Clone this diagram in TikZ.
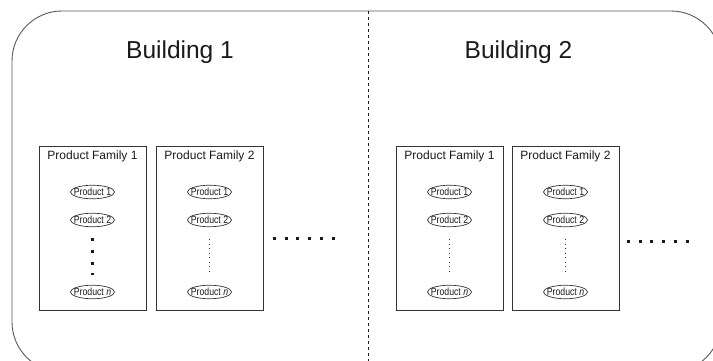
\documentclass[tikz,border=0pt]{standalone}
\usepackage{graphicx}
\usepackage{fontspec}
\setmainfont{Liberation Sans}
\usetikzlibrary{shapes.geometric}
\definecolor{edge}{HTML}{333333}
\definecolor{outline}{HTML}{5A5A5A}
\definecolor{ink}{HTML}{1A1A1A}
% product names are set narrow and may fill the whole ellipse
\newcommand{\prodname}[1]{\makebox[0pt]{\scalebox{0.84}[1]{#1}}}
\begin{document}
\begin{tikzpicture}[x=1pt,y=-1pt,
  familybox/.style={draw=edge, line width=0.9pt, minimum width=107pt, minimum height=164pt, inner sep=0pt},
  familylabel/.style={text=ink, font=\fontsize{12}{14}\selectfont, inner sep=0pt},
  product/.style={ellipse, draw=edge, line width=0.7pt, minimum width=44pt, minimum height=13.5pt, inner sep=0pt, text=ink, font=\fontsize{10.4}{11}\selectfont},
  title/.style={text=ink, font=\fontsize{24.5}{28}\selectfont, inner sep=0pt},
  bigdots/.style={draw=ink, line width=3pt, dash pattern=on 3pt off 8.7pt},
  smalldots/.style={draw=edge, line width=1.3pt, dash pattern=on 1.3pt off 3.2pt},
  divider/.style={draw=ink, line width=1pt, dash pattern=on 3pt off 3pt}]
\clip (0,0) rectangle (713,361);

% outer rounded frame and the divider between the two buildings
\draw[outline, line width=0.9pt, rounded corners=50pt] (12,11) rectangle (721,372);
\coordinate (divtop) at (368,11);
\coordinate (divbot) at (368,361);
\draw[divider] (divtop) -- (divbot);

% building titles
\node[title] (b1) at (180,52) {Building 1};
\node[title] (b2) at (518.5,52) {Building 2};

% product families: name / centre x / family number
\foreach \n/\cx/\k in {a/92.5/1, b/209.5/2, c/449.5/1, d/565.5/2}{
  \node[familybox] (fam\n) at (\cx,228) {};
  \node[familylabel] (lab\n) at ([yshift=-11pt]fam\n.north) {Product Family \k};
  \node[product] (p1\n) at (\cx,192) {\prodname{Product 1}};
  \node[product] (p2\n) at (\cx,220) {\prodname{Product 2}};
  \node[product] (pn\n) at (\cx,292) {\prodname{Product \textit{n}}};
}

% the elided products inside each family
\draw[bigdots] ([yshift=-11pt]p2a.south) -- ([yshift=10pt]pna.north);
\foreach \n in {b,c,d}{
  \draw[smalldots] ([yshift=-12pt]p2\n.south) -- ([yshift=10pt]pn\n.north);
}

% further families in each building
\coordinate (moreAs) at (273,238);
\coordinate (moreAe) at (335,238);
\coordinate (moreBs) at (627,241);
\coordinate (moreBe) at (689,241);
\draw[bigdots] (moreAs) -- (moreAe);
\draw[bigdots] (moreBs) -- (moreBe);
\end{tikzpicture}
\end{document}
